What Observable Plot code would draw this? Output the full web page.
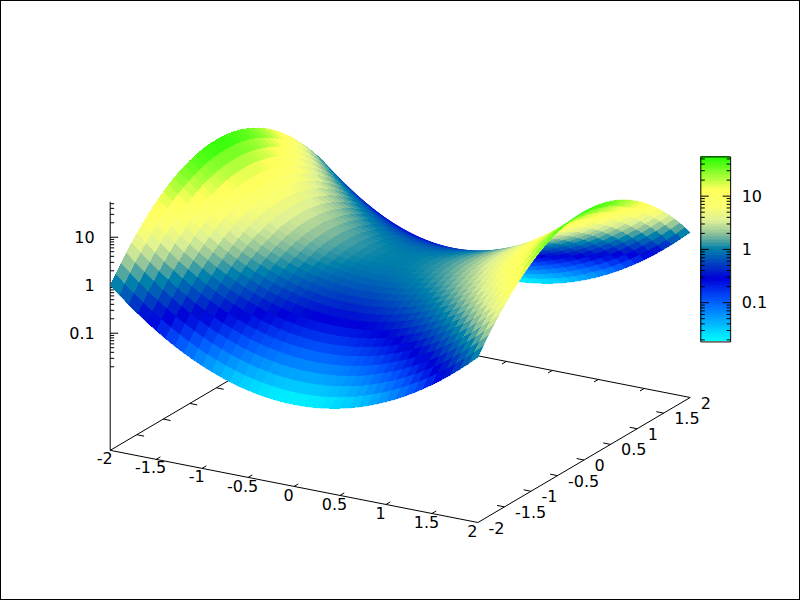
<!DOCTYPE html>
<html><head><meta charset="utf-8">
<style>html,body{margin:0;padding:0;background:#fff}svg{display:block}</style>
<script src="https://cdn.jsdelivr.net/npm/d3@7"></script>
<script src="https://cdn.jsdelivr.net/npm/@observablehq/plot@0.6"></script>
</head><body><script>
// grid coordinates, same for both horizontal axes
const gridValues = [-2,-1.9,-1.8,-1.7,-1.6,-1.5,-1.4,-1.3,-1.2,-1.1,-1,-0.9,-0.8,-0.7,-0.6,-0.5,-0.4,-0.3,-0.2,-0.1,0,0.1,0.2,0.3,0.4,0.5,0.6,0.7,0.8,0.9,1,1.1,1.2,1.3,1.4,1.5,1.6,1.7,1.8,1.9,2];
// height of the surface along the ridge y = 0
const ridgeZ = [54.6,36.97,25.53,17.99,12.94,9.488,7.099,5.419,4.221,3.353,2.718,2.248,1.896,1.632,1.433,1.284,1.174,1.094,1.041,1.01,1,1.01,1.041,1.094,1.174,1.284,1.433,1.632,1.896,2.248,2.718,3.353,4.221,5.419,7.099,9.488,12.94,17.99,25.53,36.97,54.6];
// relative height of the surface along the valley x = 0
const valleyZ = [0.0183,0.02705,0.03917,0.05558,0.07728,0.1054,0.1409,0.1845,0.2369,0.2982,0.3679,0.4449,0.5273,0.6126,0.6977,0.7788,0.8521,0.9139,0.9608,0.99,1,0.99,0.9608,0.9139,0.8521,0.7788,0.6977,0.6126,0.5273,0.4449,0.3679,0.2982,0.2369,0.1845,0.1409,0.1054,0.07728,0.05558,0.03917,0.02705,0.0183];
const axisTicks = [-2,-1.5,-1,-0.5,0,0.5,1,1.5,2];
const axisLabels = ["-2","-1.5","-1","-0.5","0","0.5","1","1.5","2"];
const zMajor = [0.1,1,10];
const zMajorLabels = ["0.1","1","10"];
const zMinor = [0.02,0.03,0.04,0.05,0.06,0.07,0.08,0.09,0.2,0.3,0.4,0.5,0.6,0.7,0.8,0.9,2,3,4,5,6,7,8,9,20,30,40,50];
const zRange = [0.0183,54.6];
const paletteStops = [0,0.22,0.34,0.5,0.58,0.65,0.73,0.82,1];
const paletteColors = ["#00ffff","#005aff","#0000d8","#0080aa","#8cc09a","#dcf096","#fbff70","#ffff5a","#1eff00"];

// view projection (gnuplot view 60,30)
const c30 = Math.cos(Math.PI/6), s30 = 0.5;
const decade = 0.665;
const lz = z => Math.log10(z);
const U = (x,y) => x*c30 + y*s30;
const V = (x,y,z) => 0.5*(-s30*x + c30*y) + (z===undefined ? 0 : (lz(z)+3.44)*decade);

// surface cells, far to near
const cells = [];
const N = gridValues.length;
let id = 0;
for (let j=N-2;j>=0;j--) for (let i=0;i<N-1;i++) {
  const corners = [[i,j],[i+1,j],[i+1,j+1],[i,j+1]];
  const zs = corners.map(([a,b])=>ridgeZ[a]*valleyZ[b]);
  const m = Math.pow(10,d3.mean(zs,lz));
  corners.forEach(([a,b],k)=>{
    cells.push({id,m,u:U(gridValues[a],gridValues[b]),v:V(gridValues[a],gridValues[b],zs[k])});
  });
  id++;
}

// base frame and ticks
const tl = 0.08;
const base = [
  [[-2,-2],[2,-2]],[[2,-2],[2,2]],[[2,2],[-2,2]],[[-2,2],[-2,-2]]
].map(([a,b])=>({x1:U(...a),y1:V(...a),x2:U(...b),y2:V(...b)}));
const segs = [...base];
for (const t of axisTicks.slice(1,-1)) {
  segs.push({x1:U(t,-2),y1:V(t,-2),x2:U(t,-2+tl),y2:V(t,-2+tl)});
  segs.push({x1:U(t,2),y1:V(t,2),x2:U(t,2-tl),y2:V(t,2-tl)});
  segs.push({x1:U(-2,t),y1:V(-2,t),x2:U(-2+tl,t),y2:V(-2+tl,t)});
  segs.push({x1:U(2,t),y1:V(2,t),x2:U(2-tl,t),y2:V(2-tl,t)});
}
// z axis
const u0 = U(-2,-2);
const major = 8/106.15, minor = 4/106.15;
segs.push({x1:u0,y1:V(-2,-2),x2:u0,y2:V(-2,-2,zRange[1])});
for (const z of zMajor) segs.push({x1:u0,y1:V(-2,-2,z),x2:u0+major,y2:V(-2,-2,z)});
for (const z of zMinor) segs.push({x1:u0,y1:V(-2,-2,z),x2:u0+minor,y2:V(-2,-2,z)});

// colour box
const cb = {u0:2.832,u1:3.113,v0:1.136,v1:3.700};
const cbV = z => cb.v0 + (lz(z)-lz(zRange[0]))/(lz(zRange[1])-lz(zRange[0]))*(cb.v1-cb.v0);
const L=lz(zRange[0]),H=lz(zRange[1]);
const cbSteps = d3.range(0,128).map(k=>{
  const a=k/128,b=(k+1)/128;
  const z1=Math.pow(10,L+a*(H-L)),z2=Math.pow(10,L+b*(H-L));
  return {z1,z2,m:Math.sqrt(z1*z2)};
});
const cbTicks = [];
for (const z of zMajor) {cbTicks.push({x1:cb.u0,x2:cb.u0+major,y:cbV(z)});cbTicks.push({x1:cb.u1,x2:cb.u1-major,y:cbV(z)});}
for (const z of zMinor) {cbTicks.push({x1:cb.u0,x2:cb.u0+minor,y:cbV(z)});cbTicks.push({x1:cb.u1,x2:cb.u1-minor,y:cbV(z)});}

const txt = {fontFamily:"DejaVu Sans",fontSize:16,fill:"black",stroke:"none"};
const chart = Plot.plot({
  width:800,height:600,margin:0,
  style:{background:"white",overflow:"hidden"},
  x:{domain:[-2.732,2.732],range:[109.7,689.7],axis:null},
  y:{domain:[-1.366,0.366],range:[522,397],axis:null},
  color:{type:"log",domain:paletteStops.map(t=>Math.pow(10,L+t*(H-L))),range:paletteColors,legend:false},
  marks:[
    Plot.frame({stroke:"black",strokeWidth:1,insetRight:1,insetBottom:1,shapeRendering:"crispEdges"}),
    Plot.link(segs,{x1:"x1",y1:"y1",x2:"x2",y2:"y2",stroke:"black",strokeWidth:1}),
    Plot.line(cells,{x:"u",y:"v",z:"id",fill:"m",stroke:"m",strokeWidth:0.4,shapeRendering:"crispEdges",curve:"linear"}),
    // axis labels
    Plot.text(axisTicks,{x:t=>U(t,-2),y:t=>V(t,-2),text:(t,i)=>axisLabels[i],dx:-5.5,dy:9,...txt}),
    Plot.text(axisTicks,{x:t=>U(2,t),y:t=>V(2,t),text:(t,i)=>axisLabels[i],dx:10.5,dy:6,textAnchor:"start",...txt}),
    Plot.text(zMajor,{x:u0,y:z=>V(-2,-2,z),text:(z,i)=>zMajorLabels[i],dx:-15.5,dy:0.7,textAnchor:"end",...txt}),
    // colour box
    Plot.rect(cbSteps,{x1:cb.u0,x2:cb.u1,y1:d=>cbV(d.z1),y2:d=>cbV(d.z2),fill:"m",shapeRendering:"crispEdges"}),
    Plot.link(cbTicks,{x1:"x1",x2:"x2",y1:"y",y2:"y",stroke:"black",strokeWidth:1}),
    Plot.link([
      {x1:cb.u0,y1:cb.v0,x2:cb.u1,y2:cb.v0},{x1:cb.u1,y1:cb.v0,x2:cb.u1,y2:cb.v1},
      {x1:cb.u1,y1:cb.v1,x2:cb.u0,y2:cb.v1},{x1:cb.u0,y1:cb.v1,x2:cb.u0,y2:cb.v0}
    ],{x1:"x1",y1:"y1",x2:"x2",y2:"y2",stroke:"black",strokeWidth:1}),
    Plot.text(zMajor,{x:cb.u1,y:cbV,text:(z,i)=>zMajorLabels[i],dx:11,dy:0.7,textAnchor:"start",...txt})
  ]
});
document.body.appendChild(chart);
</script></body></html>
